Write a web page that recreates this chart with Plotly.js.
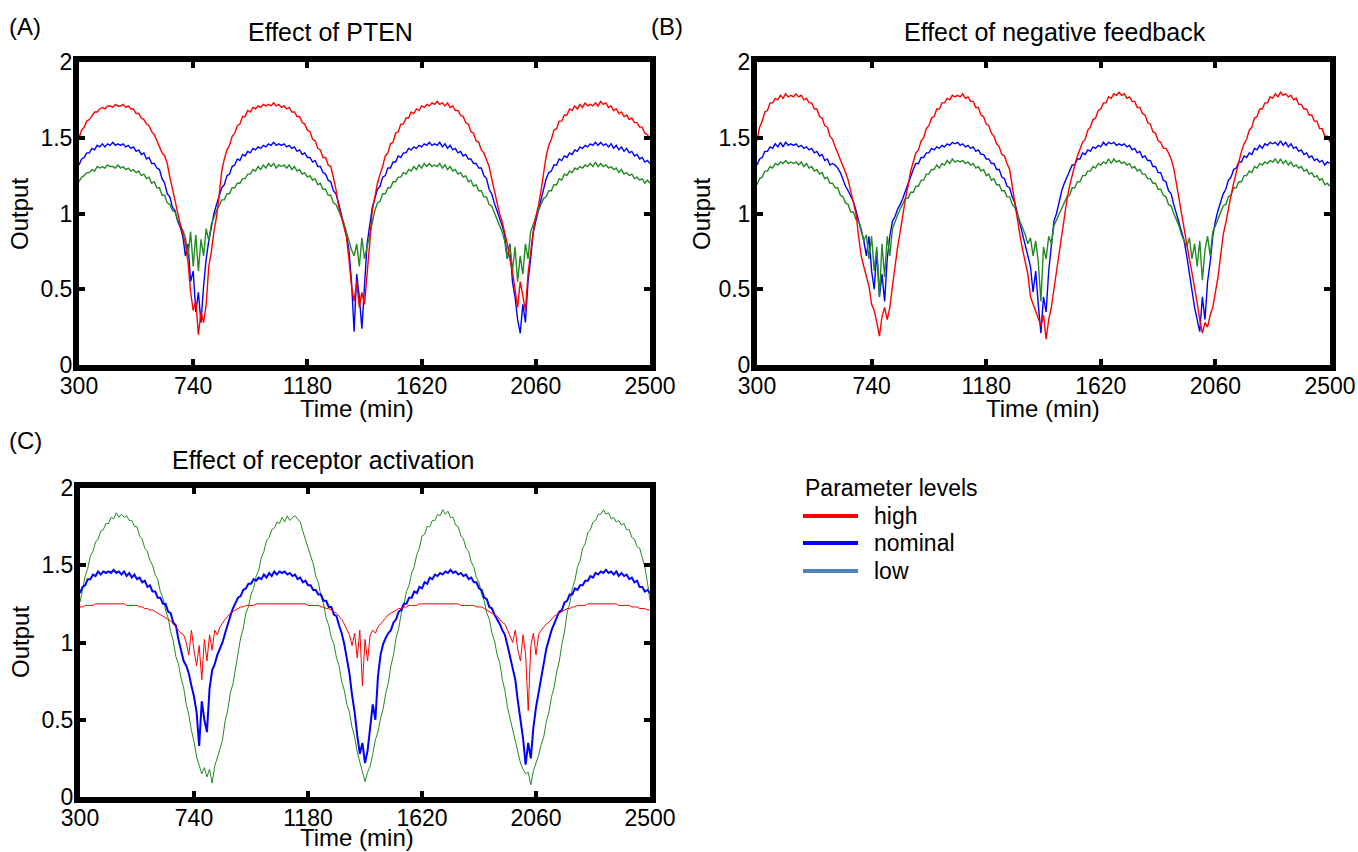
<!DOCTYPE html>
<html><head><meta charset="utf-8">
<script src="https://cdn.plot.ly/plotly-3.0.1.min.js"></script>
<style>html,body{margin:0;padding:0;background:#fff;}#chart{width:1358px;height:852px;}</style>
</head><body><div id="chart"></div>
<script>
// Time grid (min)
const time = [
300,310,320,330,340,350,360,370,380,390,
400,410,420,430,440,450,460,470,480,490,
500,510,520,530,540,550,560,570,580,590,
600,610,620,630,640,650,660,670,680,690,
700,710,720,730,740,750,760,770,780,790,
800,810,820,830,840,850,860,870,880,890,
900,910,920,930,940,950,960,970,980,990,
1000,1010,1020,1030,1040,1050,1060,1070,1080,1090,
1100,1110,1120,1130,1140,1150,1160,1170,1180,1190,
1200,1210,1220,1230,1240,1250,1260,1270,1280,1290,
1300,1310,1320,1330,1340,1350,1360,1370,1380,1390,
1400,1410,1420,1430,1440,1450,1460,1470,1480,1490,
1500,1510,1520,1530,1540,1550,1560,1570,1580,1590,
1600,1610,1620,1630,1640,1650,1660,1670,1680,1690,
1700,1710,1720,1730,1740,1750,1760,1770,1780,1790,
1800,1810,1820,1830,1840,1850,1860,1870,1880,1890,
1900,1910,1920,1930,1940,1950,1960,1970,1980,1990,
2000,2010,2020,2030,2040,2050,2060,2070,2080,2090,
2100,2110,2120,2130,2140,2150,2160,2170,2180,2190,
2200,2210,2220,2230,2240,2250,2260,2270,2280,2290,
2300,2310,2320,2330,2340,2350,2360,2370,2380,2390,
2400,2410,2420,2430,2440,2450,2460,2470,2480,2490,
2500];

// (A) Effect of PTEN
const highA = [
1.50,1.55,1.57,1.61,1.62,1.65,1.67,1.67,1.69,1.70,
1.69,1.71,1.71,1.70,1.72,1.71,1.71,1.72,1.70,1.71,
1.69,1.69,1.66,1.66,1.63,1.62,1.59,1.58,1.54,1.52,
1.48,1.45,1.40,1.38,1.33,1.24,1.16,1.09,1.02,0.93,
0.87,0.80,0.68,0.48,0.36,0.42,0.20,0.35,0.28,0.40,
0.65,0.75,0.88,0.98,1.12,1.28,1.36,1.42,1.45,1.51,
1.53,1.58,1.59,1.64,1.64,1.68,1.67,1.70,1.69,1.71,
1.70,1.72,1.71,1.72,1.71,1.73,1.71,1.72,1.70,1.71,
1.69,1.70,1.67,1.67,1.64,1.64,1.60,1.59,1.55,1.54,
1.49,1.48,1.43,1.42,1.37,1.37,1.32,1.31,1.24,1.16,
1.05,0.98,0.92,0.85,0.70,0.52,0.42,0.55,0.38,0.48,
0.40,0.58,0.80,1.02,1.12,1.20,1.26,1.31,1.38,1.40,
1.46,1.47,1.53,1.54,1.59,1.59,1.63,1.63,1.67,1.66,
1.69,1.68,1.71,1.70,1.72,1.71,1.73,1.72,1.74,1.72,
1.73,1.71,1.73,1.70,1.71,1.68,1.68,1.65,1.64,1.60,
1.59,1.54,1.53,1.48,1.47,1.42,1.40,1.35,1.31,1.23,
1.15,1.06,1.00,0.95,0.88,0.80,0.70,0.62,0.50,0.38,
0.55,0.45,0.36,0.60,0.75,0.88,0.98,1.05,1.15,1.28,
1.38,1.45,1.49,1.55,1.56,1.61,1.61,1.65,1.65,1.69,
1.68,1.71,1.69,1.72,1.70,1.73,1.71,1.72,1.71,1.73,
1.71,1.74,1.72,1.73,1.70,1.71,1.68,1.69,1.66,1.67,
1.64,1.65,1.62,1.63,1.60,1.60,1.57,1.57,1.53,1.52,
1.49];
const nominalA = [
1.32,1.36,1.37,1.40,1.40,1.43,1.42,1.45,1.44,1.46,
1.44,1.46,1.45,1.47,1.45,1.46,1.45,1.46,1.44,1.45,
1.43,1.44,1.41,1.42,1.39,1.40,1.36,1.37,1.33,1.33,
1.30,1.29,1.23,1.20,1.13,1.11,1.04,1.02,0.95,0.91,
0.85,0.72,0.80,0.55,0.62,0.35,0.48,0.28,0.52,0.70,
0.82,0.92,1.00,1.06,1.11,1.17,1.19,1.25,1.26,1.31,
1.32,1.36,1.35,1.39,1.38,1.41,1.40,1.43,1.42,1.44,
1.43,1.45,1.44,1.46,1.45,1.47,1.45,1.46,1.45,1.46,
1.44,1.45,1.43,1.44,1.41,1.42,1.39,1.40,1.37,1.37,
1.34,1.35,1.31,1.31,1.27,1.26,1.22,1.21,1.15,1.13,
1.07,1.00,0.93,0.86,0.76,0.55,0.22,0.60,0.45,0.24,
0.52,0.80,0.92,1.04,1.10,1.16,1.18,1.24,1.25,1.30,
1.30,1.34,1.34,1.38,1.37,1.40,1.40,1.43,1.42,1.44,
1.43,1.45,1.44,1.46,1.45,1.47,1.45,1.46,1.45,1.47,
1.44,1.46,1.43,1.45,1.42,1.43,1.40,1.41,1.38,1.39,
1.36,1.36,1.33,1.33,1.30,1.30,1.25,1.23,1.16,1.13,
1.07,1.02,0.98,0.92,0.86,0.70,0.80,0.55,0.45,0.30,
0.21,0.40,0.28,0.55,0.70,0.87,0.95,1.02,1.10,1.18,
1.23,1.27,1.28,1.32,1.32,1.36,1.35,1.38,1.37,1.40,
1.39,1.42,1.41,1.44,1.43,1.45,1.44,1.46,1.45,1.47,
1.45,1.47,1.45,1.46,1.44,1.46,1.43,1.45,1.42,1.44,
1.41,1.43,1.40,1.41,1.38,1.39,1.36,1.37,1.34,1.35,
1.33];
const lowA = [
1.21,1.24,1.25,1.27,1.27,1.29,1.28,1.31,1.30,1.31,
1.30,1.32,1.31,1.31,1.30,1.32,1.30,1.31,1.29,1.30,
1.28,1.29,1.27,1.28,1.25,1.26,1.23,1.24,1.20,1.21,
1.17,1.17,1.12,1.12,1.07,1.06,1.02,1.01,0.96,0.93,
0.89,0.84,0.72,0.88,0.65,0.86,0.62,0.83,0.72,0.90,
0.82,0.93,0.98,1.02,1.05,1.09,1.09,1.13,1.13,1.17,
1.17,1.20,1.20,1.23,1.23,1.26,1.26,1.29,1.28,1.31,
1.29,1.32,1.30,1.33,1.31,1.33,1.30,1.32,1.31,1.32,
1.30,1.32,1.29,1.31,1.28,1.29,1.26,1.27,1.24,1.25,
1.22,1.23,1.19,1.20,1.16,1.16,1.12,1.12,1.07,1.06,
1.02,0.98,0.94,0.88,0.82,0.76,0.72,0.80,0.65,0.84,
0.70,0.78,0.88,0.96,1.02,1.07,1.08,1.13,1.13,1.17,
1.17,1.21,1.21,1.24,1.24,1.27,1.26,1.29,1.28,1.31,
1.29,1.32,1.30,1.33,1.31,1.33,1.31,1.32,1.31,1.33,
1.30,1.32,1.29,1.31,1.28,1.29,1.26,1.27,1.24,1.25,
1.21,1.22,1.18,1.19,1.15,1.15,1.11,1.11,1.06,1.05,
1.01,0.97,0.93,0.88,0.82,0.70,0.80,0.62,0.78,0.55,
0.72,0.60,0.80,0.70,0.88,0.93,0.98,1.02,1.06,1.10,
1.11,1.15,1.15,1.19,1.19,1.23,1.22,1.26,1.25,1.28,
1.27,1.30,1.29,1.31,1.30,1.32,1.31,1.33,1.31,1.34,
1.31,1.33,1.31,1.32,1.30,1.31,1.29,1.30,1.27,1.29,
1.26,1.27,1.25,1.26,1.23,1.24,1.22,1.23,1.20,1.22,
1.20];

// (B) Effect of negative feedback
const highB = [
1.48,1.57,1.61,1.67,1.68,1.73,1.73,1.76,1.75,1.78,
1.76,1.79,1.77,1.78,1.77,1.79,1.77,1.78,1.75,1.76,
1.73,1.73,1.69,1.69,1.64,1.63,1.58,1.57,1.51,1.49,
1.44,1.40,1.35,1.31,1.27,1.22,1.15,1.08,1.00,0.85,
0.72,0.65,0.58,0.52,0.40,0.36,0.28,0.19,0.32,0.38,
0.30,0.38,0.52,0.66,0.78,0.88,1.00,1.10,1.18,1.28,
1.34,1.40,1.42,1.48,1.50,1.56,1.58,1.63,1.64,1.69,
1.69,1.73,1.73,1.76,1.75,1.78,1.77,1.78,1.77,1.79,
1.76,1.77,1.74,1.74,1.70,1.70,1.65,1.64,1.59,1.58,
1.53,1.51,1.46,1.44,1.39,1.38,1.33,1.29,1.18,1.06,
0.96,0.85,0.76,0.68,0.60,0.45,0.40,0.36,0.30,0.26,
0.33,0.17,0.30,0.38,0.50,0.62,0.74,0.88,1.00,1.09,
1.18,1.26,1.32,1.38,1.42,1.47,1.49,1.55,1.57,1.62,
1.63,1.68,1.69,1.73,1.73,1.77,1.76,1.79,1.78,1.80,
1.78,1.79,1.76,1.77,1.74,1.74,1.70,1.70,1.66,1.65,
1.60,1.59,1.54,1.53,1.48,1.47,1.43,1.43,1.40,1.36,
1.30,1.20,1.10,0.98,0.88,0.80,0.70,0.61,0.52,0.41,
0.30,0.21,0.28,0.25,0.33,0.38,0.48,0.58,0.72,0.86,
0.94,1.04,1.12,1.20,1.28,1.34,1.41,1.46,1.49,1.55,
1.57,1.63,1.64,1.69,1.69,1.73,1.73,1.77,1.76,1.79,
1.77,1.80,1.78,1.79,1.77,1.78,1.75,1.76,1.72,1.72,
1.69,1.69,1.65,1.65,1.61,1.61,1.56,1.56,1.51,1.51,
1.47];
const nominalB = [
1.32,1.36,1.37,1.41,1.41,1.44,1.43,1.46,1.44,1.47,
1.44,1.47,1.45,1.46,1.45,1.46,1.44,1.45,1.43,1.44,
1.42,1.43,1.40,1.41,1.38,1.39,1.35,1.36,1.32,1.33,
1.32,1.30,1.27,1.22,1.18,1.15,1.12,1.08,1.02,0.95,
0.88,0.82,0.72,0.85,0.62,0.50,0.75,0.45,0.60,0.42,
0.70,0.85,0.95,0.98,1.03,1.06,1.10,1.15,1.20,1.25,
1.29,1.33,1.33,1.37,1.37,1.40,1.40,1.43,1.42,1.44,
1.43,1.45,1.44,1.46,1.45,1.47,1.46,1.47,1.45,1.46,
1.44,1.45,1.43,1.44,1.41,1.42,1.39,1.39,1.36,1.36,
1.33,1.33,1.29,1.29,1.24,1.23,1.18,1.17,1.11,1.07,
1.00,0.95,0.88,0.80,0.72,0.65,0.48,0.62,0.40,0.21,
0.45,0.35,0.62,0.80,0.95,1.00,1.08,1.15,1.20,1.24,
1.28,1.32,1.32,1.36,1.36,1.40,1.39,1.42,1.41,1.44,
1.43,1.45,1.44,1.47,1.45,1.47,1.46,1.47,1.45,1.46,
1.45,1.46,1.44,1.45,1.42,1.43,1.40,1.41,1.37,1.38,
1.35,1.35,1.31,1.31,1.27,1.27,1.22,1.21,1.15,1.13,
1.06,1.00,0.95,0.88,0.82,0.72,0.60,0.50,0.38,0.30,
0.22,0.45,0.30,0.55,0.68,0.85,0.95,1.02,1.08,1.13,
1.16,1.22,1.24,1.29,1.30,1.34,1.34,1.38,1.37,1.40,
1.39,1.43,1.42,1.45,1.43,1.46,1.45,1.47,1.46,1.47,
1.45,1.48,1.45,1.47,1.44,1.46,1.43,1.44,1.41,1.42,
1.39,1.40,1.37,1.38,1.35,1.36,1.34,1.35,1.32,1.34,
1.33];
const lowB = [
1.19,1.23,1.24,1.28,1.28,1.31,1.30,1.33,1.32,1.34,
1.33,1.35,1.33,1.34,1.33,1.34,1.32,1.34,1.31,1.33,
1.30,1.31,1.28,1.29,1.26,1.27,1.23,1.24,1.20,1.20,
1.17,1.17,1.12,1.11,1.07,1.06,1.01,1.01,0.96,0.95,
0.90,0.82,0.86,0.70,0.85,0.62,0.78,0.45,0.80,0.58,
0.85,0.72,0.90,0.95,0.99,1.03,1.06,1.10,1.10,1.14,
1.14,1.18,1.18,1.22,1.22,1.26,1.26,1.29,1.29,1.32,
1.30,1.33,1.32,1.35,1.33,1.36,1.34,1.35,1.34,1.35,
1.33,1.34,1.32,1.33,1.30,1.31,1.28,1.29,1.25,1.26,
1.22,1.23,1.19,1.19,1.15,1.15,1.11,1.11,1.06,1.04,
0.99,0.95,0.90,0.86,0.80,0.84,0.72,0.82,0.68,0.42,
0.78,0.70,0.85,0.80,0.92,0.96,1.00,1.04,1.07,1.11,
1.12,1.17,1.17,1.21,1.21,1.25,1.25,1.28,1.28,1.31,
1.30,1.33,1.32,1.34,1.33,1.36,1.33,1.36,1.34,1.35,
1.33,1.34,1.32,1.33,1.30,1.31,1.28,1.29,1.26,1.26,
1.23,1.23,1.20,1.20,1.16,1.16,1.12,1.11,1.06,1.05,
1.00,0.96,0.92,0.86,0.82,0.78,0.84,0.70,0.80,0.65,
0.82,0.56,0.76,0.85,0.72,0.88,0.92,0.96,1.00,1.05,
1.06,1.11,1.12,1.17,1.17,1.21,1.21,1.25,1.25,1.28,
1.27,1.31,1.30,1.33,1.32,1.34,1.33,1.35,1.34,1.36,
1.33,1.36,1.33,1.35,1.32,1.34,1.31,1.32,1.30,1.31,
1.28,1.29,1.26,1.27,1.24,1.25,1.22,1.23,1.19,1.20,
1.18];

// (C) Effect of receptor activation
const highC = [
1.23,1.23,1.24,1.24,1.24,1.24,1.25,1.25,1.25,1.25,
1.25,1.25,1.25,1.25,1.25,1.25,1.25,1.25,1.24,1.24,
1.24,1.24,1.24,1.23,1.23,1.22,1.22,1.21,1.21,1.20,
1.19,1.18,1.17,1.16,1.15,1.14,1.12,1.10,1.08,1.06,
1.05,1.00,0.92,1.08,0.95,0.85,0.98,0.76,1.02,0.88,
1.05,0.95,1.08,1.05,1.10,1.13,1.15,1.17,1.19,1.20,
1.21,1.22,1.23,1.23,1.24,1.24,1.24,1.24,1.25,1.25,
1.25,1.25,1.25,1.25,1.25,1.25,1.25,1.25,1.25,1.25,
1.25,1.25,1.25,1.25,1.25,1.25,1.25,1.25,1.24,1.24,
1.24,1.24,1.24,1.23,1.23,1.22,1.22,1.21,1.20,1.19,
1.17,1.15,1.12,1.08,1.05,0.98,1.06,0.90,1.08,0.72,
1.02,0.88,1.05,1.08,1.06,1.10,1.12,1.14,1.16,1.18,
1.19,1.20,1.21,1.22,1.22,1.23,1.23,1.24,1.24,1.24,
1.24,1.25,1.25,1.25,1.25,1.25,1.25,1.25,1.25,1.25,
1.25,1.25,1.25,1.25,1.25,1.25,1.25,1.24,1.24,1.24,
1.24,1.24,1.24,1.23,1.23,1.23,1.22,1.21,1.20,1.19,
1.18,1.17,1.15,1.13,1.12,1.08,1.05,1.00,1.08,0.95,
0.88,1.05,0.92,0.56,0.98,1.06,0.92,1.05,1.08,1.10,
1.12,1.13,1.15,1.17,1.18,1.19,1.20,1.21,1.22,1.22,
1.23,1.23,1.24,1.24,1.24,1.24,1.25,1.25,1.25,1.25,
1.25,1.25,1.25,1.25,1.25,1.25,1.25,1.25,1.24,1.24,
1.24,1.24,1.24,1.23,1.23,1.23,1.22,1.22,1.22,1.21,
1.21];
const nominalC = [
1.32,1.36,1.37,1.41,1.41,1.44,1.43,1.46,1.44,1.46,
1.45,1.46,1.45,1.47,1.45,1.46,1.44,1.46,1.43,1.45,
1.42,1.44,1.41,1.42,1.39,1.40,1.36,1.37,1.33,1.33,
1.29,1.29,1.25,1.25,1.20,1.19,1.13,1.11,1.02,0.95,
0.88,0.85,0.80,0.72,0.65,0.55,0.33,0.62,0.50,0.42,
0.70,0.82,0.86,0.92,0.96,1.00,1.06,1.12,1.17,1.22,
1.25,1.29,1.30,1.34,1.35,1.38,1.38,1.41,1.40,1.42,
1.41,1.44,1.42,1.45,1.43,1.46,1.44,1.46,1.45,1.46,
1.44,1.45,1.43,1.44,1.41,1.42,1.39,1.40,1.37,1.37,
1.34,1.34,1.31,1.31,1.27,1.27,1.23,1.23,1.18,1.17,
1.11,1.06,0.99,0.90,0.80,0.66,0.55,0.40,0.28,0.35,
0.22,0.30,0.45,0.60,0.50,0.78,0.92,0.99,1.03,1.06,
1.08,1.13,1.15,1.20,1.21,1.25,1.25,1.29,1.29,1.33,
1.32,1.36,1.35,1.39,1.38,1.42,1.41,1.44,1.43,1.45,
1.44,1.46,1.45,1.47,1.45,1.46,1.44,1.45,1.43,1.44,
1.41,1.42,1.39,1.39,1.35,1.34,1.29,1.28,1.23,1.22,
1.18,1.15,1.12,1.08,1.05,0.98,0.90,0.82,0.76,0.62,
0.50,0.38,0.21,0.35,0.25,0.45,0.58,0.68,0.78,0.88,
0.96,1.02,1.08,1.12,1.16,1.20,1.21,1.26,1.27,1.31,
1.31,1.35,1.34,1.37,1.37,1.40,1.40,1.43,1.42,1.45,
1.44,1.46,1.45,1.47,1.45,1.46,1.44,1.46,1.43,1.45,
1.43,1.44,1.41,1.42,1.39,1.40,1.36,1.36,1.33,1.34,
1.32];
const lowC = [
1.26,1.35,1.43,1.48,1.56,1.59,1.65,1.67,1.72,1.73,
1.77,1.77,1.81,1.80,1.84,1.81,1.83,1.81,1.82,1.79,
1.79,1.75,1.75,1.69,1.67,1.61,1.59,1.53,1.50,1.44,
1.41,1.33,1.29,1.21,1.16,1.07,1.01,0.91,0.86,0.77,
0.71,0.60,0.53,0.43,0.36,0.26,0.21,0.15,0.19,0.13,
0.18,0.09,0.20,0.25,0.31,0.37,0.49,0.56,0.67,0.73,
0.83,0.91,1.03,1.09,1.19,1.23,1.31,1.35,1.43,1.47,
1.55,1.59,1.66,1.68,1.73,1.74,1.78,1.77,1.81,1.78,
1.82,1.79,1.81,1.82,1.80,1.78,1.72,1.67,1.62,1.56,
1.51,1.43,1.39,1.30,1.25,1.16,1.11,1.03,0.99,0.90,
0.85,0.75,0.69,0.60,0.55,0.45,0.39,0.29,0.22,0.15,
0.10,0.16,0.20,0.28,0.37,0.42,0.51,0.57,0.67,0.74,
0.85,0.92,1.03,1.09,1.19,1.24,1.33,1.37,1.45,1.49,
1.57,1.61,1.69,1.70,1.75,1.75,1.79,1.79,1.83,1.82,
1.86,1.83,1.85,1.81,1.81,1.76,1.75,1.69,1.67,1.61,
1.59,1.52,1.49,1.42,1.39,1.31,1.27,1.19,1.15,1.06,
1.01,0.92,0.87,0.76,0.69,0.58,0.51,0.42,0.37,0.28,
0.22,0.18,0.15,0.16,0.08,0.17,0.22,0.27,0.34,0.39,
0.49,0.55,0.65,0.71,0.81,0.88,0.99,1.07,1.19,1.25,
1.35,1.40,1.49,1.53,1.61,1.64,1.71,1.73,1.78,1.79,
1.83,1.83,1.86,1.83,1.84,1.80,1.81,1.78,1.79,1.76,
1.77,1.73,1.73,1.68,1.67,1.62,1.61,1.54,1.49,1.39,
1.27];

const xTickVals = [300, 740, 1180, 1620, 2060, 2500];
const xTickText = ['300', '740', '1180', '1620', '2060', '2500'];
const yTickVals = [0, 0.5, 1, 1.5, 2];
const yTickText = ['0', '0.5', '1', '1.5', '2'];
const panelTitles = ['Effect of PTEN', 'Effect of negative feedback', 'Effect of receptor activation'];
const panelLetters = ['(A)', '(B)', '(C)'];
const legendTitle = 'Parameter levels';
const legendNames = ['high', 'nominal', 'low'];
const legendColors = ['#ff0000', '#0000ff', '#4f81bd'];

const RED = '#ff0000', BLUE = '#0000ff', GREEN = '#228b22';
const FONT = 'Liberation Sans, Arial, Helvetica, sans-serif';
const W = 1358, H = 852;
const px = v => v / W, py = v => 1 - v / H;

function line(y, color, width, xa, ya, name) {
  return {x: time, y: y, type: 'scatter', mode: 'lines', xaxis: xa, yaxis: ya, name: name,
    line: {color: color, width: width}, showlegend: false, hoverinfo: 'skip'};
}

const traces = [
  line(nominalA, BLUE, 1.4, 'x', 'y', 'nominal'),
  line(lowA, GREEN, 1.4, 'x', 'y', 'low'),
  line(highA, RED, 1.4, 'x', 'y', 'high'),
  line(nominalB, BLUE, 1.4, 'x2', 'y2', 'nominal'),
  line(lowB, GREEN, 1.4, 'x2', 'y2', 'low'),
  line(highB, RED, 1.4, 'x2', 'y2', 'high'),
  line(lowC, GREEN, 1, 'x3', 'y3', 'low'),
  line(nominalC, BLUE, 2, 'x3', 'y3', 'nominal'),
  line(highC, RED, 1, 'x3', 'y3', 'high')
];

function axisBase() {
  return {tickmode: 'array', ticks: 'inside', ticklen: 6, tickwidth: 4,
    tickcolor: '#000', showline: true, linewidth: 6, linecolor: '#000', mirror: 'ticks',
    showgrid: false, zeroline: false, fixedrange: true,
    tickfont: {family: FONT, size: 23, color: '#000'}};
}
function xAxis(domain, anchor) {
  return Object.assign(axisBase(), {domain: domain, anchor: anchor, range: [300, 2500],
    tickvals: xTickVals, ticktext: xTickText, ticklabelstandoff: -5});
}
function yAxis(domain, anchor) {
  return Object.assign(axisBase(), {domain: domain, anchor: anchor, range: [0, 2],
    tickvals: yTickVals, ticktext: yTickText, ticklabelstandoff: -4});
}

const ann = (text, x, y, size, extra) => Object.assign({text: text, x: x, y: y,
  xref: 'paper', yref: 'paper', showarrow: false, xanchor: 'center', yanchor: 'middle',
  font: {family: FONT, size: size, color: '#000'}}, extra || {});

const legendY = [516, 543, 571];
const shapes = legendNames.map((n, i) => ({type: 'line', xref: 'paper', yref: 'paper',
  x0: px(803), x1: px(858), y0: py(legendY[i]), y1: py(legendY[i]),
  line: {color: legendColors[i], width: 4}}));

const annotations = [
  ann(panelLetters[0], px(25), py(27), 24),
  ann(panelLetters[1], px(667), py(27), 24),
  ann(panelLetters[2], px(25), py(440), 24),
  ann(panelTitles[0], px(330), py(32), 25),
  ann(panelTitles[1], px(1055), py(32), 25),
  ann(panelTitles[2], px(323), py(460), 25),
  ann('Time (min)', px(357), py(408), 24),
  ann('Time (min)', px(1043), py(408), 24),
  ann('Time (min)', px(357), py(837), 24),
  ann('Output', px(20), py(214), 24, {textangle: -90}),
  ann('Output', px(702), py(214), 24, {textangle: -90}),
  ann('Output', px(20), py(642), 24, {textangle: -90}),
  ann(legendTitle, px(803), py(488), 23, {xanchor: 'left'})
].concat(legendNames.map((n, i) => ann(n, px(872), py(legendY[i]), 23, {xanchor: 'left'})));

const layout = {
  width: W, height: H, margin: {l: 0, r: 0, t: 0, b: 0},
  paper_bgcolor: '#fff', plot_bgcolor: '#fff', showlegend: false,
  xaxis: xAxis([px(79), px(650)], 'y'),
  yaxis: yAxis([py(365), py(62)], 'x'),
  xaxis2: xAxis([px(757), px(1330)], 'y2'),
  yaxis2: yAxis([py(365), py(62)], 'x2'),
  xaxis3: xAxis([px(80), px(650)], 'y3'),
  yaxis3: yAxis([py(797), py(488)], 'x3'),
  shapes: shapes,
  annotations: annotations
};

Plotly.newPlot('chart', traces, layout, {staticPlot: true, displayModeBar: false});
</script></body></html>
